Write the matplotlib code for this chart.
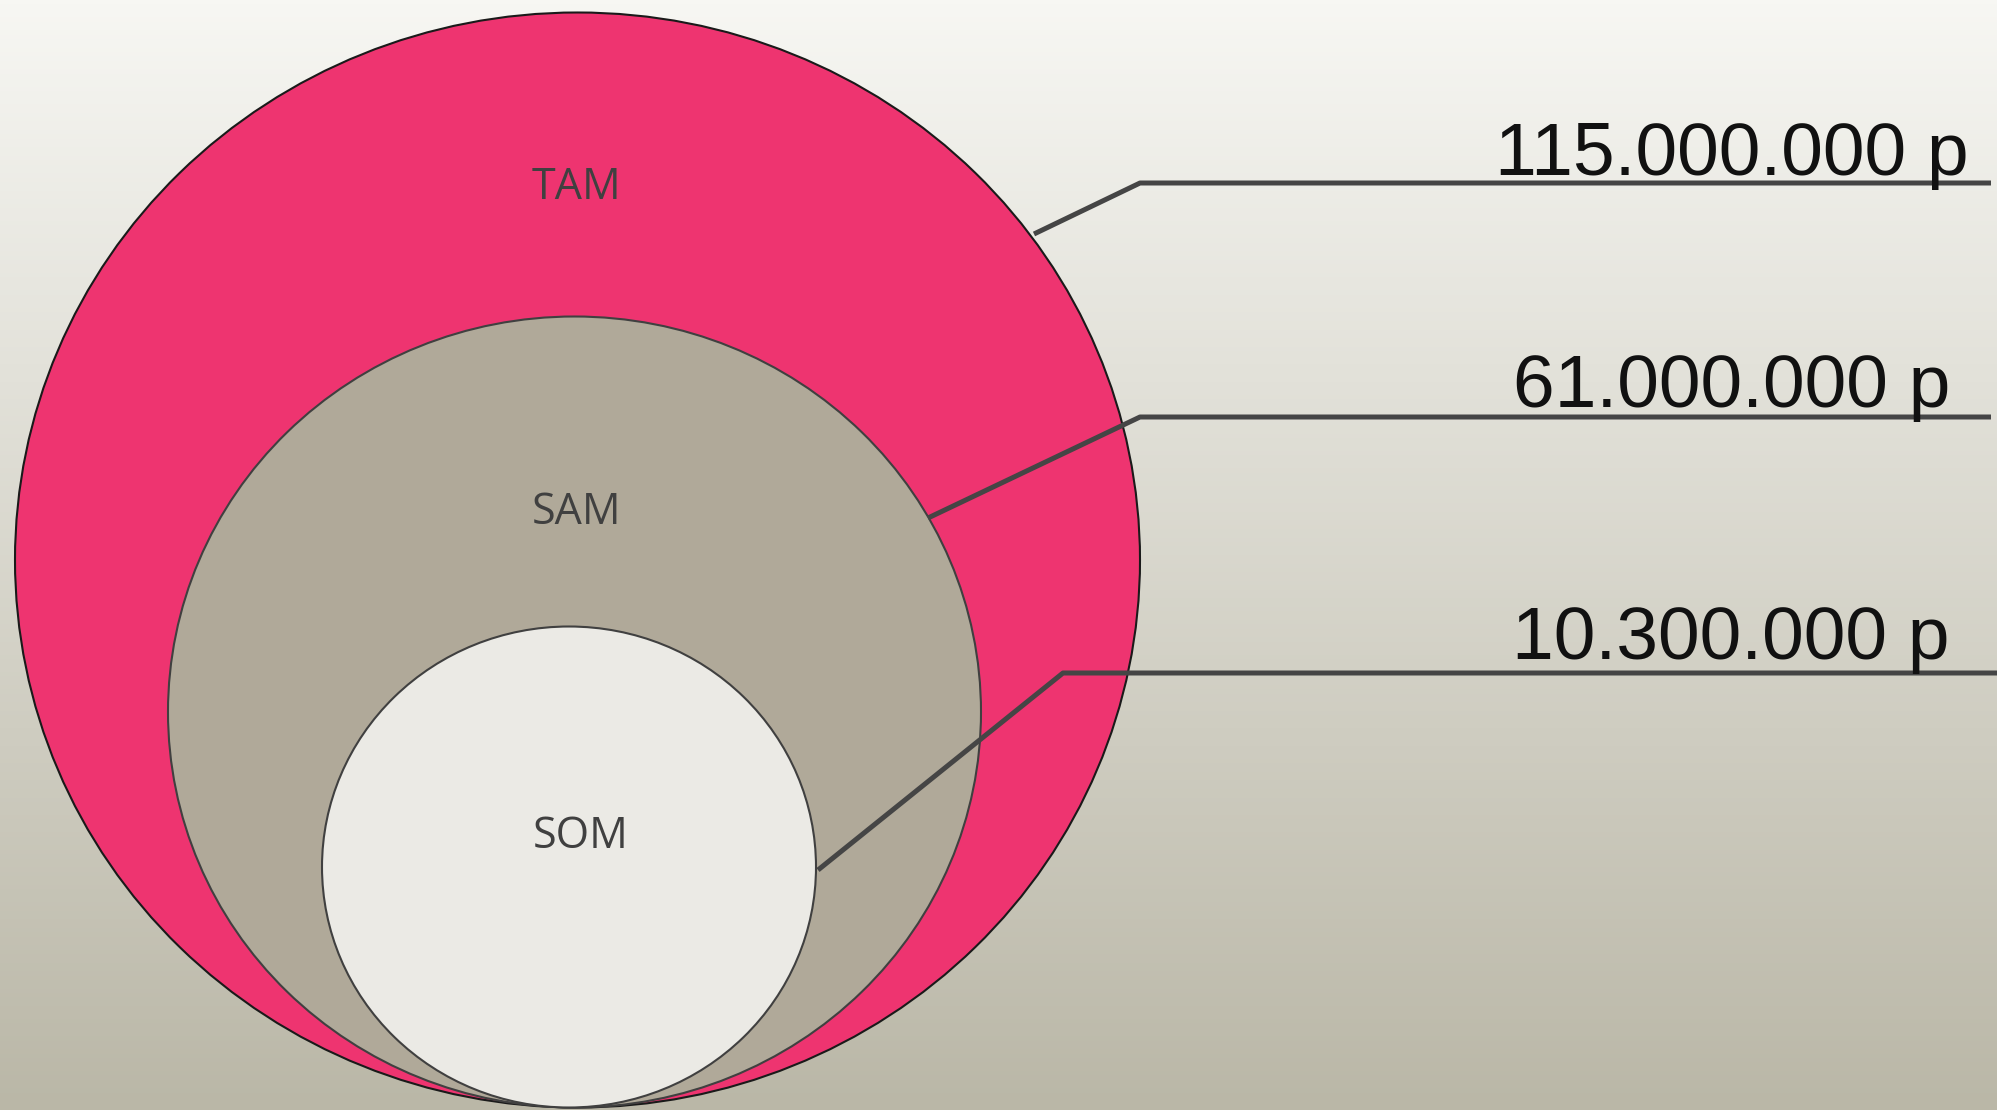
import matplotlib; matplotlib.use("Agg")
import matplotlib.pyplot as plt
from matplotlib.patches import Ellipse
import numpy as np

# данные
segments = ["TAM", "SAM", "SOM"]
values = [115000000, 61000000, 10300000]
labels = [f"{v:,}".replace(",", ".") + " p" for v in values]

# раскладка в пикселях (1997x1110)
W, H = 1997, 1110
ell = [(577.5, 560, 1125, 1095), (574.5, 712, 813, 791), (569, 867, 494, 481)]
fills = ["#EE3470", "#B0A999", "#EBEAE5"]
edges = ["#1a1a1a", "#404040", "#404040"]
name_pos = [(577, 188), (577, 513), (581, 837)]
leaders = [[(1034, 234), (1140, 183), (1991, 183)],
           [(928, 518), (1140, 417), (1991, 417)],
           [(818, 870), (1063, 673), (1997, 673)]]
text_pos = [(1969, 175), (1950, 407), (1950, 659)]

fig = plt.figure(figsize=(W/100, H/100), dpi=100)
ax = fig.add_axes([0, 0, 1, 1])
ax.set_xlim(0, W); ax.set_ylim(H, 0); ax.axis("off")

# фон: вертикальный градиент
top = np.array([0xF7, 0xF7, 0xF3]) / 255; bot = np.array([0xBA, 0xB7, 0xA7]) / 255
t = np.linspace(0, 1, 256)[:, None]
grad = (top * (1 - t) + bot * t)[:, None, :]
ax.imshow(grad, extent=[0, W, H, 0], aspect="auto", zorder=0)

for (cx, cy, w, h), fc, ec in zip(ell, fills, edges):
    ax.add_patch(Ellipse((cx, cy), w, h, facecolor=fc, edgecolor=ec, lw=1.5, zorder=1))
for s, (x, y) in zip(segments, name_pos):
    ax.text(x, y, s, ha="center", va="center", fontsize=31, color="#404040",
            family="Open Sans", zorder=3)
for pts in leaders:
    xs, ys = zip(*pts)
    ax.plot(xs, ys, color="#454545", lw=3.6, solid_capstyle="butt", zorder=2)
for lab, (x, y) in zip(labels, text_pos):
    ax.text(x, y, lab, ha="right", va="baseline", fontsize=54, color="#111111",
            family="Liberation Sans", zorder=3)

fig.savefig("out.png", dpi=100)
